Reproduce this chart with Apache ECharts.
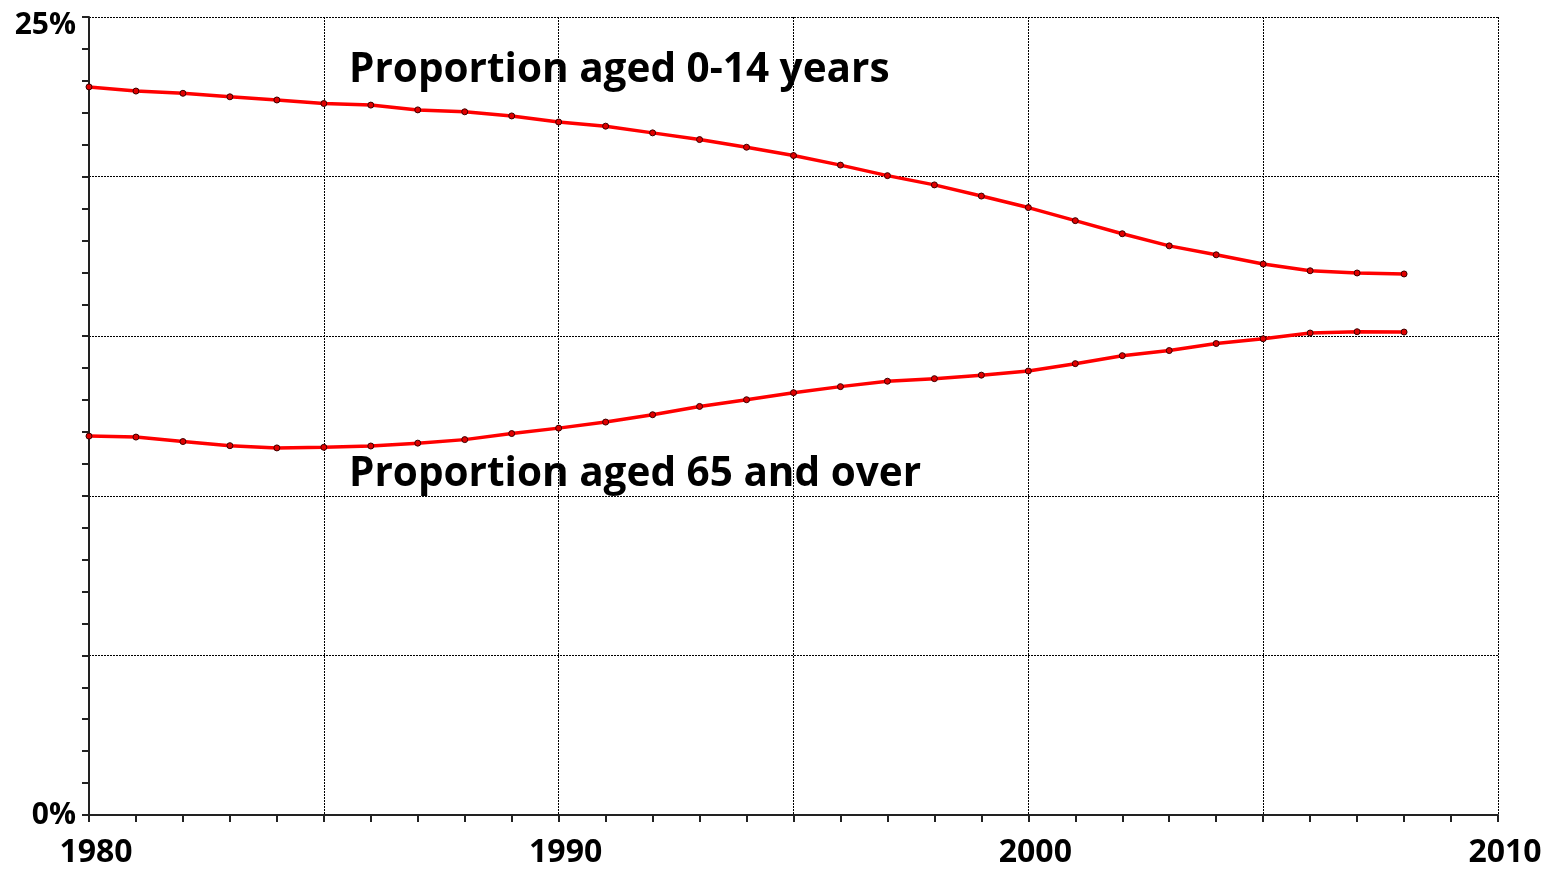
<!DOCTYPE html>
<html>
<head>
<meta charset="utf-8">
<style>
    html, body { margin: 0; padding: 0; background: #fff; }
    #chart { width: 1546px; height: 869px; }
</style>
<script src="https://cdn.jsdelivr.net/npm/echarts@6/dist/echarts.min.js"></script>
</head>
<body>
<div id="chart"></div>
<script>
// years on the x axis
var years = [1980, 1981, 1982, 1983, 1984, 1985, 1986, 1987, 1988, 1989,
             1990, 1991, 1992, 1993, 1994, 1995, 1996, 1997, 1998, 1999,
             2000, 2001, 2002, 2003, 2004, 2005, 2006, 2007, 2008];
// proportion aged 0-14 (%)
var aged0to14 = [22.81, 22.68, 22.61, 22.50, 22.40, 22.29, 22.24, 22.09, 22.03, 21.90,
                 21.71, 21.58, 21.37, 21.16, 20.92, 20.66, 20.36, 20.03, 19.74, 19.39,
                 19.03, 18.62, 18.21, 17.83, 17.55, 17.26, 17.05, 16.98, 16.95];
// proportion aged 65 and over (%)
var aged65plus = [11.87, 11.84, 11.70, 11.57, 11.50, 11.52, 11.56, 11.65, 11.76, 11.95,
                  12.12, 12.31, 12.54, 12.80, 13.01, 13.23, 13.42, 13.59, 13.67, 13.78,
                  13.91, 14.14, 14.39, 14.55, 14.77, 14.92, 15.10, 15.14, 15.13];
var seriesNames = ['Proportion aged 0-14 years', 'Proportion aged 65 and over'];

var font = '"Open Sans", Lato, sans-serif';

function toPairs(vals){
    var out = [];
    for (var i = 0; i < years.length; i++) {
        out.push([years[i], vals[i]]);
    }
    return out;
}

function lineSeries(name, vals){
    return {
        name: name,
        type: 'line',
        data: toPairs(vals),
        symbol: 'circle',
        symbolSize: 6,
        lineStyle: { color: '#ff0000', width: 3.5 },
        itemStyle: { color: '#e00000', borderColor: '#3a0000', borderWidth: 1 },
        z: 3
    };
}

var gridLine = { show: true, lineStyle: { color: '#000', width: 1, type: [2, 1] } };
var axisLineStyle = { show: true, lineStyle: { color: '#222', width: 2 } };

var option = {
    animation: false,
    backgroundColor: '#fff',
    grid: { left: 89, right: 48, top: 17, bottom: 53 },
    xAxis: {
        type: 'value',
        min: 1980,
        max: 2010,
        interval: 5,
        axisLine: axisLineStyle,
        axisTick: { show: true, length: 7, lineStyle: { color: '#222', width: 2 } },
        minorTick: { show: true, splitNumber: 5, length: 7, lineStyle: { color: '#222', width: 2 } },
        splitLine: gridLine,
        axisLabel: {
            margin: 22,
            fontFamily: font,
            fontWeight: 'bold',
            fontSize: 32,
            color: '#000',
            padding: [0, 0, 0, 14],
            formatter: function(v){ return v % 10 === 0 ? String(v) : ''; }
        }
    },
    yAxis: {
        type: 'value',
        min: 0,
        max: 25,
        interval: 5,
        axisLine: axisLineStyle,
        axisTick: { show: true, length: 7, lineStyle: { color: '#222', width: 2 } },
        minorTick: { show: true, splitNumber: 5, length: 7, lineStyle: { color: '#222', width: 2 } },
        splitLine: gridLine,
        axisLabel: {
            margin: 13,
            fontFamily: font,
            fontWeight: 'bold',
            fontSize: 30,
            color: '#000',
            formatter: function(v){
                if (v === 25) return '{top|25%}';
                if (v === 0) return '0%';
                return '';
            },
            rich: {
                top: { fontFamily: font, fontWeight: 'bold', fontSize: 30, color: '#000', padding: [16, 0, 0, 0] }
            }
        }
    },
    graphic: [
        { type: 'text', x: 349, y: 70, z: 10,
          style: { text: seriesNames[0], fontFamily: font, fontWeight: 'bold', fontSize: 40.5, fill: '#000', verticalAlign: 'middle' } },
        { type: 'text', x: 349, y: 474, z: 10,
          style: { text: seriesNames[1], fontFamily: font, fontWeight: 'bold', fontSize: 40.5, fill: '#000', verticalAlign: 'middle' } }
    ],
    series: [
        lineSeries(seriesNames[0], aged0to14),
        lineSeries(seriesNames[1], aged65plus)
    ]
};

var myChart = echarts.init(document.getElementById('chart'));
myChart.setOption(option);
</script>
</body>
</html>
